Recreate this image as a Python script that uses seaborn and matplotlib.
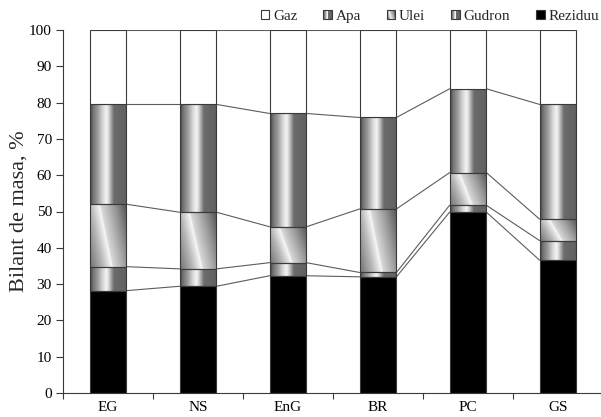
import numpy as np
import pandas as pd
import matplotlib
matplotlib.use("Agg")
import matplotlib.pyplot as plt
import seaborn as sns
from matplotlib.patches import Rectangle, Patch
from matplotlib.legend_handler import HandlerBase

# Mass balance per sample, % (stacked bottom to top)
categories = ["EG", "NS", "EnG", "BR", "PC", "GS"]
reziduu = [28.2, 29.4, 32.3, 32.0, 49.8, 36.6]
gudron = [6.6, 4.8, 3.6, 1.2, 1.9, 5.4]
ulei = [17.2, 15.6, 9.9, 17.5, 9.0, 5.9]
apa = [27.5, 29.7, 31.2, 25.2, 23.1, 31.6]
gaz = [20.5, 20.5, 23.0, 24.1, 16.2, 20.5]

series_names = ["Reziduu", "Gudron", "Ulei", "Apa", "Gaz"]
series_values = [reziduu, gudron, ulei, apa, gaz]
series_fill = ["black", "stripe", "diag", "stripe", "white"]
legend_order = ["Gaz", "Apa", "Ulei", "Gudron", "Reziduu"]

EDGE = "#3a3a3a"
LINK = "#5c5c5c"


def stripe_val(x):
    return np.interp(x, [0, 0.08, 0.2, 0.35, 0.45, 0.52, 0.65, 1.0],
                     [0.28, 0.45, 0.6, 0.85, 0.96, 0.8, 0.42, 0.38])


def diag_val(x, t):
    d = x - (0.6 - 0.35 * t)
    return np.interp(d, [-0.6, -0.25, 0.0, 0.03, 0.4, 0.75],
                     [0.45, 0.72, 0.97, 0.85, 0.6, 0.33])


def gradient_image(kind, n=64):
    xs = np.linspace(0, 1, n)
    ts = np.linspace(0, 1, n)
    X, T = np.meshgrid(xs, ts)
    if kind == "stripe":
        return stripe_val(X)
    return diag_val(X, T)


class GradientHandler(HandlerBase):
    def __init__(self, kind):
        super().__init__()
        self.kind = kind

    def create_artists(self, legend, orig_handle, xdescent, ydescent,
                       width, height, fontsize, trans):
        arts = []
        x0, y0 = -xdescent, -ydescent
        if self.kind in ("stripe", "diag"):
            n = 10
            img = gradient_image(self.kind, n)
            for j in range(n):
                for i in range(n):
                    g = img[j, i]
                    arts.append(Rectangle((x0 + i * width / n, y0 + j * height / n),
                                          width / n, height / n,
                                          facecolor=(g, g, g), edgecolor="none",
                                          transform=trans))
            face = "none"
        else:
            face = self.kind
        arts.append(Rectangle((x0, y0), width, height, facecolor=face,
                              edgecolor=EDGE, linewidth=0.8, transform=trans))
        return arts


sns.set_theme(style="ticks")
plt.rcParams["font.family"] = ["Liberation Serif", "DejaVu Serif"]

fig = plt.figure(figsize=(6.01, 4.17), dpi=100)
ax = fig.add_axes([63 / 601, 24 / 417, 540 / 601, 363 / 417])

bottom = np.zeros(len(categories))
levels = []
for name, vals, kind in zip(series_names, series_values, series_fill):
    df = pd.DataFrame({"cat": categories, "val": vals})
    n_before = len(ax.patches)
    base = "black" if kind == "black" else "white"
    sns.barplot(data=df, x="cat", y="val", order=categories, bottom=bottom.copy(),
                width=0.41, color=base, saturation=1, errorbar=None,
                edgecolor=EDGE, linewidth=0.8, ax=ax)
    bars = ax.patches[n_before:]
    for p in bars:
        if kind in ("stripe", "diag"):
            x0, y0 = p.get_x(), p.get_y()
            w, h = p.get_width(), p.get_height()
            ax.imshow(gradient_image(kind), extent=(x0, x0 + w, y0, y0 + h),
                      origin="lower", cmap="gray", vmin=0, vmax=1,
                      aspect="auto", interpolation="bilinear", zorder=1)
            p.set_facecolor("none")
        p.set_zorder(2)
    bottom = bottom + np.array(vals)
    levels.append((bars, bottom.copy()))

# series lines joining the top of each segment between neighbouring bars
for bars, tops in levels:
    for i in range(len(bars) - 1):
        xa = bars[i].get_x() + bars[i].get_width()
        xb = bars[i + 1].get_x()
        ax.plot([xa, xb], [tops[i], tops[i + 1]], color=LINK, lw=0.8, zorder=1.5)

ax.set_xlim(-0.5, len(categories) - 0.5)
ax.set_ylim(0, 100)
ax.set_yticks(range(0, 101, 10))
ax.set_xticks(np.arange(-0.5, len(categories), 1), minor=True)
ax.set_xlabel("")
ax.set_ylabel("Bilant de masa, %", fontsize=16, labelpad=0)

ax.tick_params(axis="y", direction="out", length=5, width=0.8, color=EDGE,
               labelsize=11, pad=3, labelcolor="black")
ax.tick_params(axis="x", which="major", length=0, labelsize=11, pad=6,
               labelcolor="black")
ax.tick_params(axis="x", which="minor", direction="out", length=4, width=0.8,
               color=EDGE)
for s in ("top", "right"):
    ax.spines[s].set_visible(False)
for s in ("left", "bottom"):
    ax.spines[s].set_color(EDGE)
    ax.spines[s].set_linewidth(0.8)
    ax.spines[s].set_zorder(3)

kind_of = dict(zip(series_names, series_fill))
handles = [Patch(label=n) for n in legend_order]
hmap = {h: GradientHandler(kind_of[h.get_label()]) for h in handles}
fig.legend(handles=handles, labels=legend_order, handler_map=hmap, ncol=5,
           loc="center right", bbox_to_anchor=(599 / 601, 0.96), frameon=False,
           borderaxespad=0, borderpad=0,
           fontsize=11, handlelength=0.55, handleheight=0.55, handletextpad=0.25,
           columnspacing=1.7)

fig.savefig("out.png", dpi=100)
